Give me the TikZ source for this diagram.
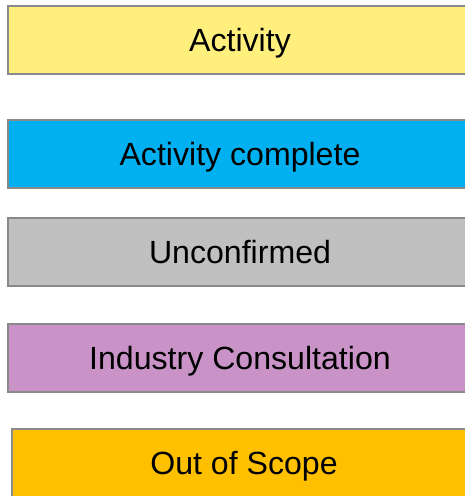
\documentclass[tikz,border=0pt]{standalone}
\usepackage{fontspec}
\setmainfont{Liberation Sans}
\usetikzlibrary{positioning}
\definecolor{actyellow}{HTML}{FFF07E}
\definecolor{actblue}{HTML}{00B0F0}
\definecolor{actgray}{HTML}{C0C0C0}
\definecolor{actpurple}{HTML}{C993C7}
\definecolor{actorange}{HTML}{FFC000}
\definecolor{boxline}{HTML}{8A8A8A}
\tikzset{keybox/.style = {draw = boxline, line width = 1.5pt, minimum width = 464pt, minimum height = 68pt, inner sep = 0pt, text height = 23pt, text depth = 0pt, font = \fontsize{32.1}{37}\selectfont}}

\begin{document}
\begin{tikzpicture}[x=1pt, y=-1pt]
\useasboundingbox (0, 0) rectangle (465, 496);
\clip (0, 0) rectangle (465, 496);
\node[keybox, fill = actyellow] (activity) at (240, 40) {Activity};
\node[keybox, fill = actblue] (complete) at (240, 154) {Activity complete};
\node[keybox, fill = actgray] (unconfirmed) at (240, 252) {Unconfirmed};
\node[keybox, fill = actpurple] (consult) at (240, 358) {Industry Consultation};
\node[keybox, fill = actorange] (scope) at (244, 463) {Out of Scope};
\end{tikzpicture}
\end{document}
